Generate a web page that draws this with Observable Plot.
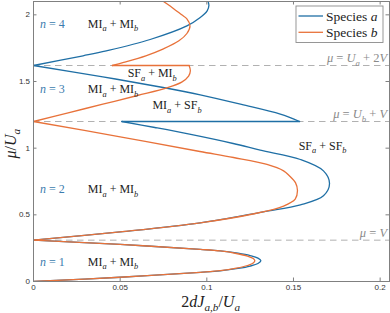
<!DOCTYPE html>
<html><head><meta charset="utf-8">
<script src="https://cdn.jsdelivr.net/npm/d3@7"></script>
<script src="https://cdn.jsdelivr.net/npm/@observablehq/plot@0.6"></script>
<style>
html,body{margin:0;padding:0;background:#fff;}
#chart{width:390px;height:313px;}
</style></head><body><div id="chart"></div>
<script>
// ---------- data (x = 2dJ/U_a, y = mu/U_a) ----------
const speciesNames = ["Species *a*", "Species *b*"];
const speciesColors = ["#1f6fa5", "#e8723a"];

// species a boundaries
const aLobe1 = [[0,0],[0.05,0.032],[0.0962,0.069],[0.1077,0.08],[0.118,0.098],[0.125,0.116],[0.1295,0.135],[0.1312,0.155],[0.1295,0.175],[0.125,0.194],[0.118,0.212],[0.1077,0.23],[0.0962,0.241],[0.05,0.278],[0,0.31]];
const aLobe2 = [[0,0.31],[0.05,0.372],[0.0962,0.44],[0.1325,0.523],[0.154,0.575],[0.1673,0.643],[0.1708,0.735],[0.1673,0.83],[0.154,0.915],[0.1308,0.985],[0.1152,1.035],[0.09,1.105],[0.07,1.155],[0.051,1.2]];
const aStep = [[0.051,1.2],[0.1535,1.2]];
const aLobe3 = [[0.1535,1.2],[0.1424,1.255],[0.12,1.328],[0.0962,1.4],[0.0748,1.455],[0.04,1.535],[0,1.62]];
const aLobe4 = [[0,1.62],[0.0286,1.693],[0.042,1.73],[0.0673,1.815],[0.0885,1.917],[0.0962,1.98],[0.1002,2.03],[0.1012,2.07],[0.1006,2.105],[0.0995,2.13]];

// species b boundaries
const bLobe1 = [[0,0],[0.05,0.032],[0.0962,0.069],[0.1077,0.081],[0.117,0.1],[0.1235,0.12],[0.1268,0.138],[0.1277,0.155],[0.1268,0.172],[0.1235,0.19],[0.117,0.21],[0.1077,0.229],[0.0962,0.241],[0.05,0.278],[0,0.31]];
const bLobe2 = [[0,0.31],[0.05,0.372],[0.0962,0.44],[0.128,0.51],[0.1443,0.566],[0.151,0.618],[0.1523,0.68],[0.1512,0.74],[0.1475,0.795],[0.1443,0.83],[0.1347,0.878],[0.1154,0.93],[0.096,0.975],[0.05,1.085],[0,1.2]];
const bLobe3 = [[0,1.2],[0.02,1.265],[0.04,1.33],[0.06,1.395],[0.077,1.452],[0.0855,1.495],[0.0895,1.54],[0.0905,1.58],[0.0898,1.62]];
const bStep = [[0.0455,1.62],[0.0898,1.62]];
const bLobe4 = [[0.0455,1.62],[0.052,1.643],[0.0648,1.693],[0.075,1.745],[0.0839,1.805],[0.0885,1.86],[0.0903,1.917],[0.0885,1.97],[0.0855,2.0],[0.0805,2.05],[0.075,2.1],[0.071,2.13]];

// reference lines
const guideMu = [0.31, 1.2, 1.62];
const guideText = ["*μ* = *V*", "*μ* = *U*_b + *V*", "*μ* = *U*_a + 2*V*"];

// region labels
const phaseText = ["*n* = 4","MI_a + MI_b","*n* = 3","MI_a + MI_b","SF_a + MI_b","MI_a + SF_b","SF_a + SF_b","*n* = 2","MI_a + MI_b","*n* = 1","MI_a + MI_b"];
const phaseX =    [0.004, 0.0316, 0.004, 0.0316, 0.0546, 0.0689, 0.1533, 0.004, 0.0316, 0.004, 0.0316];
const phaseMu =   [1.93, 1.93, 1.437, 1.437, 1.557, 1.318, 1.012, 0.688, 0.688, 0.1425, 0.1425];
const phaseIsN =  [true,false,true,false,false,false,false,true,false,true,false];

// ticks
const xTicks = [0, 0.05, 0.1, 0.15, 0.2];
const xTickLabels = ["0", "0.05", "0.1", "0.15", "0.2"];
const yTicks = [0, 0.5, 1, 1.5, 2];
const yTickLabels = ["0", "0.5", "1", "1.5", "2"];
const xLabel = "2*dJ*_{a,b}/*U*_a";
const yLabel = "*μ*/*U*_a";

// ---------- chart ----------
const W = 390, H = 313, mL = 33, mR = 1, mT = 1, mB = 32;
const innerW = W - mL - mR, innerH = H - mT - mB;
const SERIF = "'Liberation Serif', 'DejaVu Serif', serif";
const SANS = "'Liberation Sans', Arial, sans-serif";
const frameColor = "#808080";

const lineOpts = (color, curve) => ({x: d => d[0], y: d => d[1], stroke: color, strokeWidth: 1.3, curve, clip: true});
const aSegs = [aLobe1, aLobe2, aLobe3, aLobe4];
const bSegs = [bLobe1, bLobe2, bLobe3, bLobe4];

const plot = Plot.plot({
  width: W, height: H,
  marginLeft: mL, marginRight: mR, marginTop: mT, marginBottom: mB,
  x: {domain: [0, 0.2054]},
  y: {domain: [0, 2.1]},
  style: {background: "white", fontFamily: SANS, fontSize: "8px", color: "#333"},
  marks: [
    Plot.ruleY(guideMu, {stroke: "#a8a8a8", strokeWidth: 0.9, strokeDasharray: "6.5,4.5"}),
    ...aSegs.map(s => Plot.line(s, lineOpts(speciesColors[0], "catmull-rom"))),
    Plot.line(aStep, lineOpts(speciesColors[0], "linear")),
    ...bSegs.map(s => Plot.line(s, lineOpts(speciesColors[1], "catmull-rom"))),
    Plot.line(bStep, lineOpts(speciesColors[1], "linear")),
    Plot.frame({stroke: frameColor, strokeWidth: 1}),
    Plot.ruleX(xTicks, {stroke: frameColor, insetTop: innerH - 3.5}),
    Plot.ruleX(xTicks, {stroke: frameColor, insetBottom: innerH - 3.5}),
    Plot.ruleY(yTicks, {stroke: frameColor, insetRight: innerW - 3.5}),
    Plot.ruleY(yTicks, {stroke: frameColor, insetLeft: innerW - 3.5}),
    Plot.axisX({ticks: xTicks, tickSize: 0, tickPadding: 3, label: null, fontSize: 8,
      tickFormat: d => xTickLabels[xTicks.indexOf(d)]}),
    Plot.axisY({ticks: yTicks, tickSize: 0, tickPadding: 3.5, label: null, fontSize: 8,
      tickFormat: d => yTickLabels[yTicks.indexOf(d)]})
  ]
});
document.getElementById("chart").appendChild(plot);

// ---------- rich (LaTeX-like) text ----------
const sx = plot.scale("x"), sy = plot.scale("y");
const svg = d3.select(plot);
const g = svg.append("g");

function rich(parent, str, x, y, fs, color, anchor) {
  const t = parent.append("text").attr("x", x).attr("y", y)
    .attr("font-family", SERIF).attr("font-size", fs).attr("fill", color)
    .attr("text-anchor", anchor || "start");
  const re = /_\{([^}]*)\}|_(.)|\*([^*]+)\*|([^_*]+)/g;
  let m, shifted = false;
  const sh = fs * 0.28;
  while ((m = re.exec(str))) {
    if (m[1] != null || m[2] != null) {
      const s = m[1] != null ? m[1] : m[2];
      t.append("tspan").attr("font-size", fs * 0.7).attr("font-style", "italic")
        .attr("dy", shifted ? 0 : sh).text(s);
      shifted = true;
    } else {
      const ts = t.append("tspan").text(m[3] != null ? m[3] : m[4]);
      if (m[3] != null) ts.attr("font-style", "italic");
      if (shifted) { ts.attr("dy", -sh); shifted = false; }
    }
  }
  return t;
}

// region labels
phaseText.forEach((s, i) => {
  const fs = 12;
  rich(g, s, sx.apply(phaseX[i]), sy.apply(phaseMu[i]) + fs * 0.33, fs,
       phaseIsN[i] ? "#3b7cae" : "#222", "start");
});

// guide labels
guideMu.forEach((mu, i) => {
  rich(g, guideText[i], sx.apply(0.2043), sy.apply(mu) - 2.8, 12.5, "#8a8a8a", "end");
});

// axis labels
rich(g, xLabel, sx.apply(0.1025), 307, 16, "#222", "middle");
const yl = g.append("g").attr("transform", `translate(15.5,${sy.apply(1.03)}) rotate(-90)`);
rich(yl, yLabel, 0, 0, 16, "#222", "middle");

// legend
const lg = svg.append("g").attr("transform", "translate(296,6)");
lg.append("rect").attr("x", 0).attr("y", 0).attr("width", 87).attr("height", 36.5)
  .attr("fill", "white").attr("stroke", "#8c8c8c").attr("stroke-width", 0.9);
speciesNames.forEach((nm, i) => {
  const cy = 10 + i * 16.3;
  lg.append("line").attr("x1", 2.5).attr("x2", 27).attr("y1", cy).attr("y2", cy)
    .attr("stroke", speciesColors[i]).attr("stroke-width", 1.3);
  rich(lg, nm, 30, cy + 4.5, 13.5, "#222", "start");
});
</script>
</body></html>
